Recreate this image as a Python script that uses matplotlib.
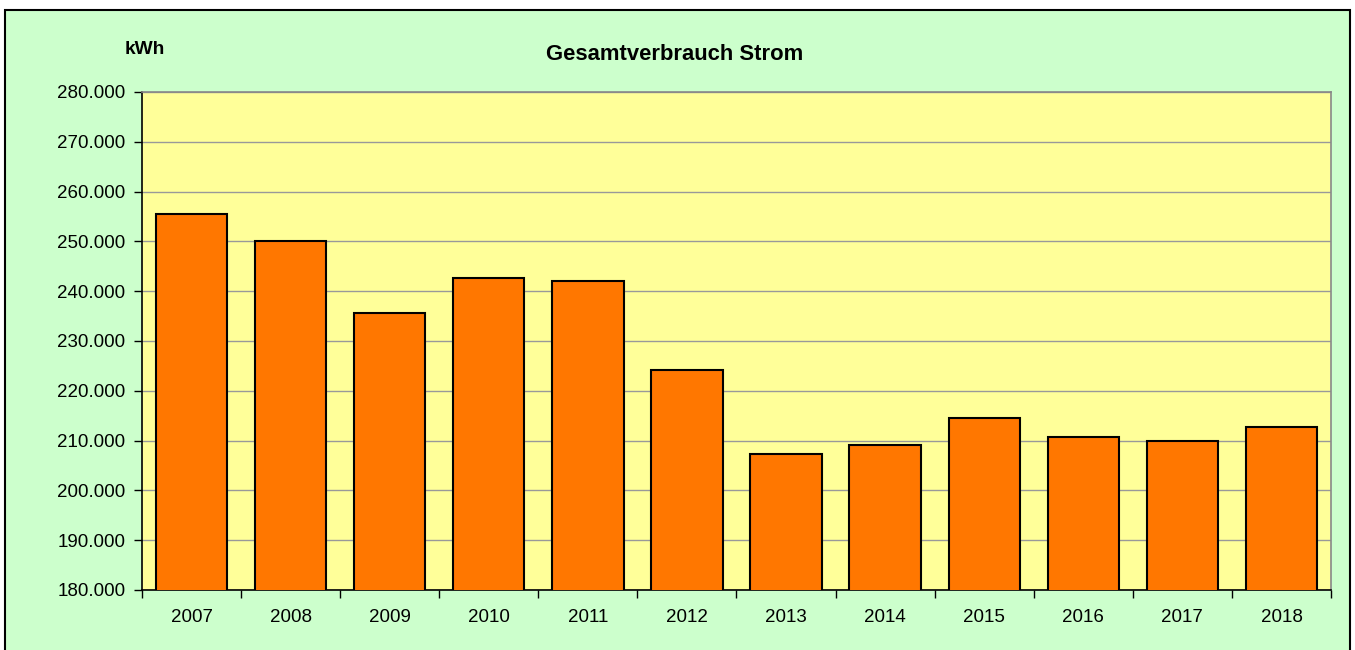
import matplotlib.pyplot as plt
from matplotlib.patches import Rectangle
from matplotlib.ticker import FuncFormatter

plt.rcParams['font.family'] = ['Liberation Sans', 'DejaVu Sans']

years = ["2007", "2008", "2009", "2010", "2011", "2012",
         "2013", "2014", "2015", "2016", "2017", "2018"]
verbrauch = [255550, 250100, 235700, 242700, 242100, 224100,
             207300, 209100, 214500, 210700, 209900, 212700]

fig = plt.figure(figsize=(13.55, 6.5), dpi=100, facecolor="white")

# outer chart frame (green area with black border), kept behind the axes
fig.patches.append(Rectangle((5 / 1355, -0.05), 1345 / 1355, 1.05 - 10 / 650,
                             transform=fig.transFigure, facecolor="#CCFFCC",
                             edgecolor="black", lw=1.5, zorder=-10))

ax = fig.add_axes([142 / 1355, 1 - 590 / 650, 1189 / 1355, 498 / 650])
ax.set_facecolor("#FFFF99")

x = range(len(years))
ax.bar(x, verbrauch, width=0.72, color="#FF7700", edgecolor="black",
       linewidth=1.5, zorder=3)

ax.set_ylim(180000, 280000)
ax.set_xlim(-0.5, len(years) - 0.5)
ax.set_yticks(range(180000, 280001, 10000))
ax.yaxis.set_major_formatter(FuncFormatter(lambda v, p: f"{int(v):,}".replace(",", ".")))
ax.grid(axis="y", color="#999999", lw=1, zorder=1)

ax.set_xticks(list(x))
ax.set_xticklabels(years)
ax.set_xticks([i - 0.5 for i in range(len(years) + 1)], minor=True)
ax.tick_params(axis="x", which="major", length=0, pad=14, labelsize=13.5)
ax.tick_params(axis="x", which="minor", length=6, width=1, direction="out")
ax.tick_params(axis="y", length=6, width=1, direction="out", pad=6, labelsize=13.5)

for side in ["left", "bottom"]:
    ax.spines[side].set_color("black")
    ax.spines[side].set_linewidth(1.2)
for side in ["top", "right"]:
    ax.spines[side].set_color("#888888")
    ax.spines[side].set_linewidth(1.2)

fig.text(675 / 1355, 1 - 54 / 650, "Gesamtverbrauch Strom", ha="center",
         va="center", fontsize=15.8, fontweight="bold")
fig.text(145 / 1355, 1 - 49 / 650, "kWh", ha="center", va="center",
         fontsize=13.8, fontweight="bold")

fig.savefig("out.png", dpi=100, facecolor=fig.get_facecolor())
